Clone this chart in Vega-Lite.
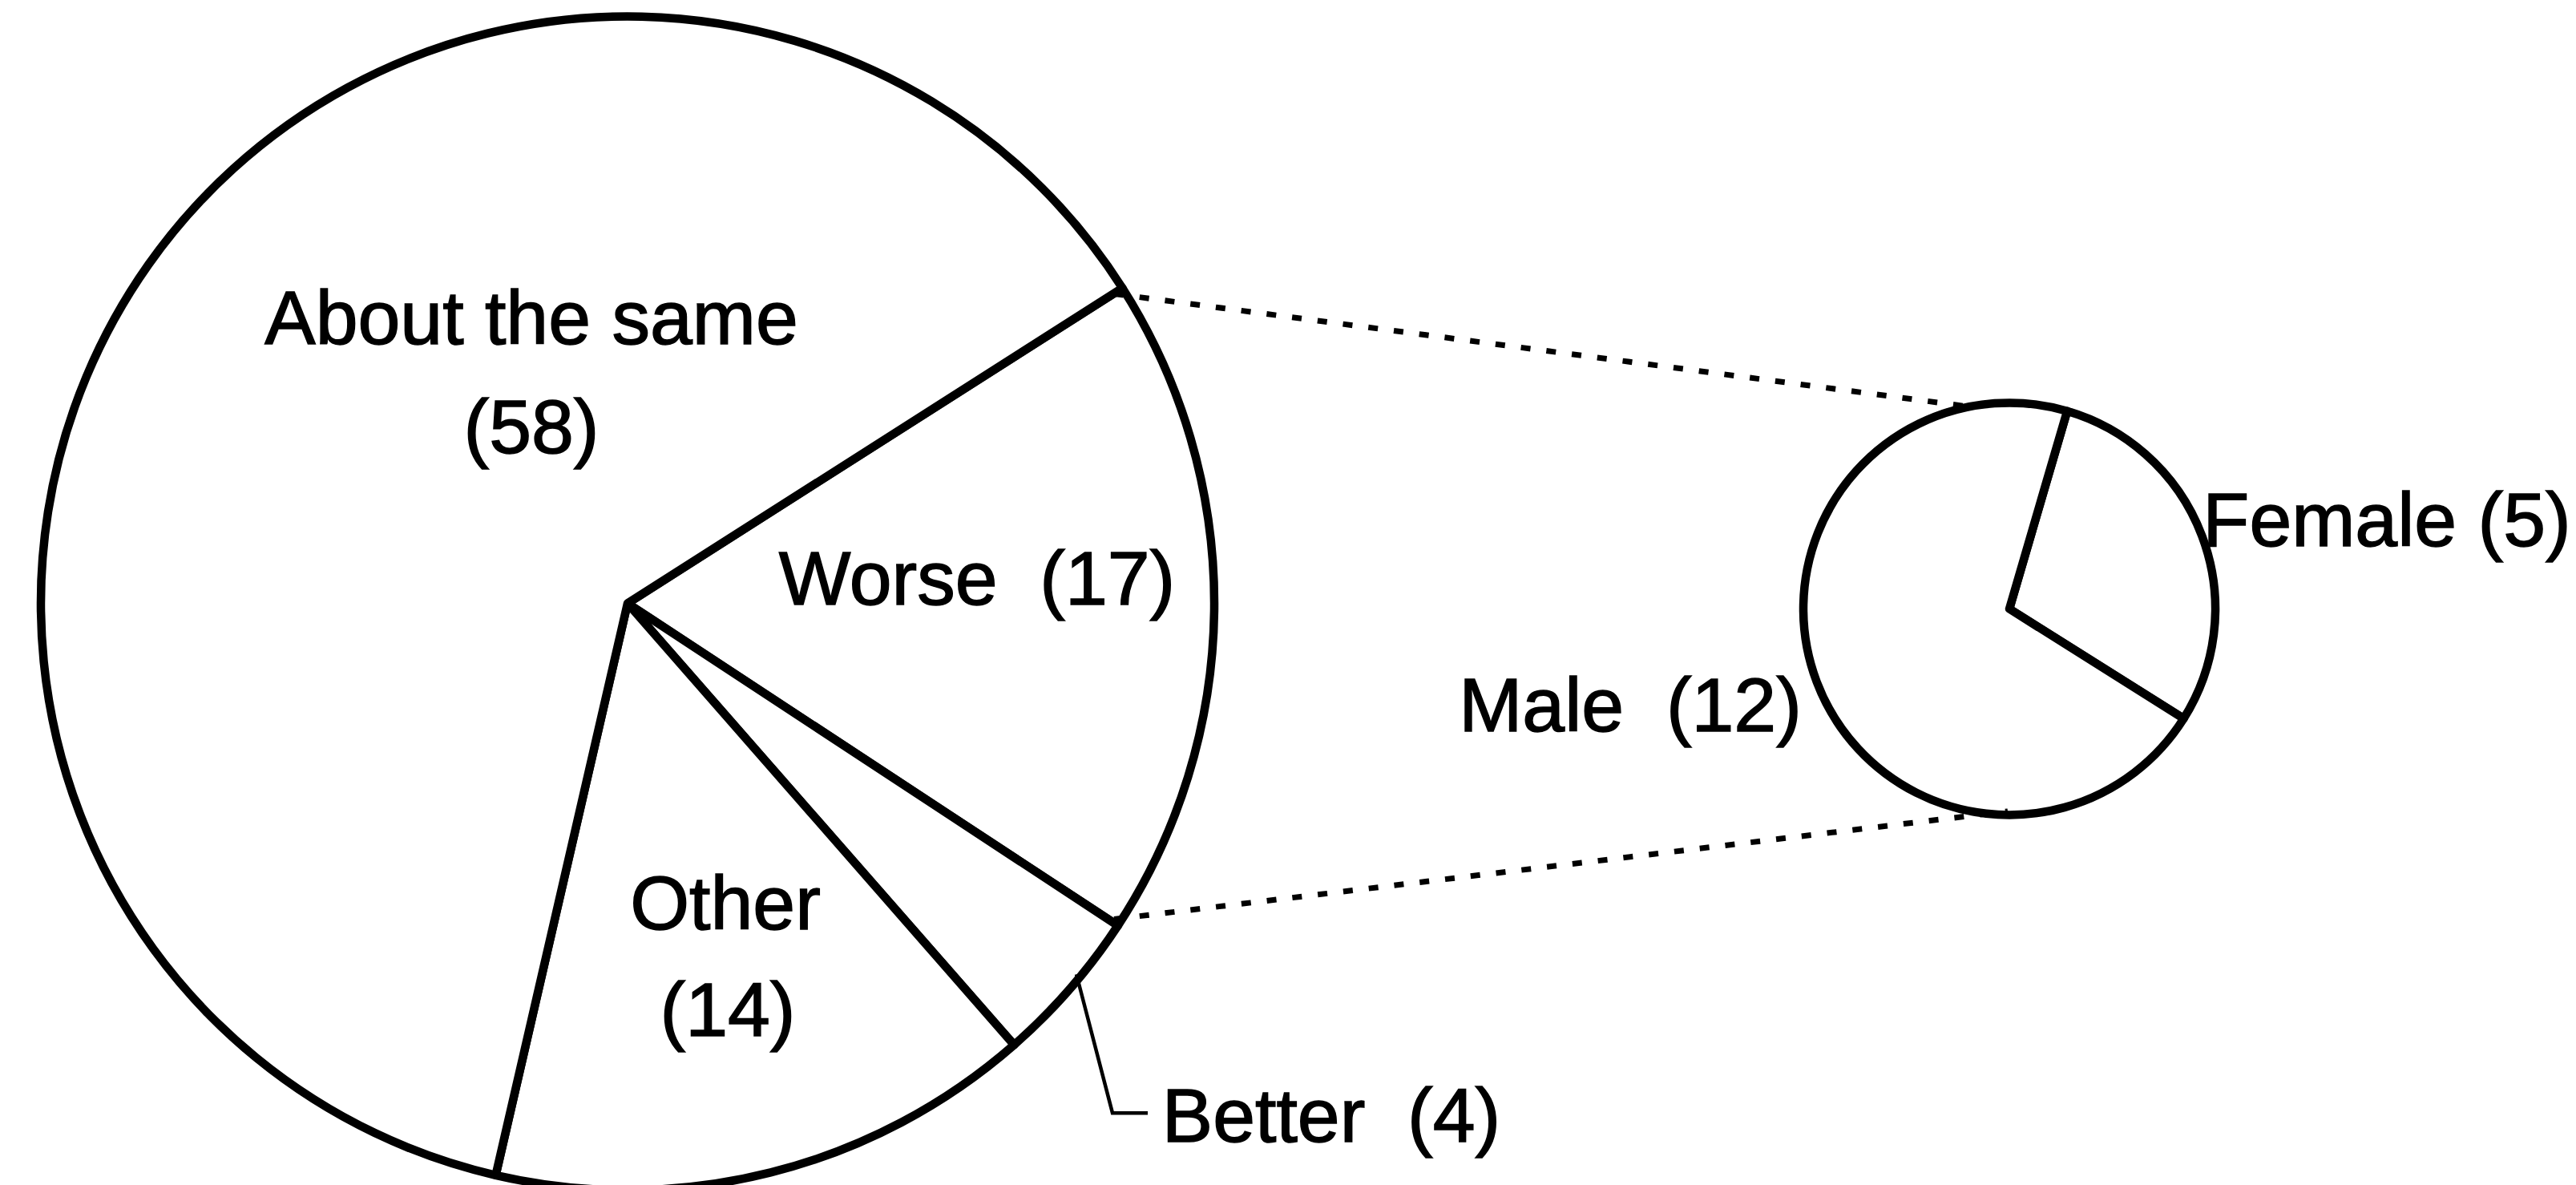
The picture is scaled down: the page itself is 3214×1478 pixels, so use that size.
{
  "$schema": "https://vega.github.io/schema/vega-lite/v6.json",
  "width": 3214,
  "height": 1478,
  "autosize": {"type": "fit", "contains": "padding"},
  "padding": 0,
  "background": "white",
  "config": {"view": {"stroke": null}},
  "datasets": {
    "main": [
      {"category": "Worse", "count": 17, "ord": 1},
      {"category": "Better", "count": 4, "ord": 2},
      {"category": "Other", "count": 14, "ord": 3},
      {"category": "About the same", "count": 58, "ord": 4}
    ],
    "breakdown": [
      {"category": "Female", "count": 5, "ord": 1},
      {"category": "Male", "count": 12, "ord": 2}
    ],
    "connectors": [
      {"x": 139.0, "y": 37.3, "x2": 245.5, "y2": 51.6},
      {"x": 139.0, "y": 116.7, "x2": 250.5, "y2": 103.0}
    ],
    "leader": [
      {"x": 134.3, "y": 123.7, "step": 1},
      {"x": 138.8, "y": 141.3, "step": 2},
      {"x": 143.2, "y": 141.3, "step": 3}
    ],
    "labels": [
      {"text": "About the same", "x": 66.3, "y": 43.7},
      {"text": "(58)", "x": 66.3, "y": 57.5},
      {"text": "Worse\u00a0 (17)", "x": 121.9, "y": 76.8},
      {"text": "Other", "x": 90.5, "y": 118.0},
      {"text": "(14)", "x": 90.8, "y": 131.5},
      {"text": "Better\u00a0 (4)", "x": 166.1, "y": 145.0},
      {"text": "Male\u00a0 (12)", "x": 203.4, "y": 92.8},
      {"text": "Female (5)", "x": 297.8, "y": 69.3}
    ]
  },
  "resolve": {"scale": {"theta": "independent"}},
  "layer": [
    {
      "data": {"name": "main"},
      "mark": {"type": "arc", "outerRadius": 732, "fill": "white", "stroke": "black", "strokeWidth": 10.5, "strokeJoin": "round"},
      "encoding": {
        "theta": {"field": "count", "type": "quantitative", "stack": true, "scale": {"range": [1.0036, 7.2868]}},
        "order": {"field": "ord", "type": "quantitative"},
        "x": {"datum": 78.3, "type": "quantitative", "scale": {"domain": [0, 321.4], "nice": false, "zero": false}, "axis": null},
        "y": {"datum": 76.6, "type": "quantitative", "scale": {"domain": [0, 147.8], "nice": false, "zero": false, "reverse": true}, "axis": null}
      }
    },
    {
      "data": {"name": "breakdown"},
      "mark": {"type": "arc", "outerRadius": 257, "fill": "white", "stroke": "black", "strokeWidth": 10.5, "strokeJoin": "round"},
      "encoding": {
        "theta": {"field": "count", "type": "quantitative", "stack": true, "scale": {"range": [0.2845, 6.5677]}},
        "order": {"field": "ord", "type": "quantitative"},
        "x": {"datum": 250.7, "type": "quantitative"},
        "y": {"datum": 77.3, "type": "quantitative"}
      }
    },
    {
      "data": {"name": "connectors"},
      "mark": {"type": "rule", "stroke": "black", "strokeWidth": 7, "strokeDash": [12, 20]},
      "encoding": {
        "x": {"field": "x", "type": "quantitative"},
        "y": {"field": "y", "type": "quantitative"},
        "x2": {"field": "x2"},
        "y2": {"field": "y2"}
      }
    },
    {
      "data": {"name": "leader"},
      "mark": {"type": "line", "stroke": "black", "strokeWidth": 4.5},
      "encoding": {
        "x": {"field": "x", "type": "quantitative"},
        "y": {"field": "y", "type": "quantitative"},
        "order": {"field": "step", "type": "quantitative"}
      }
    },
    {
      "data": {"name": "labels"},
      "mark": {"type": "text", "font": "Liberation Sans", "fontSize": 95, "align": "center", "baseline": "alphabetic", "fill": "black", "stroke": "black", "strokeWidth": 1.5},
      "encoding": {
        "x": {"field": "x", "type": "quantitative"},
        "y": {"field": "y", "type": "quantitative"},
        "text": {"field": "text", "type": "nominal"}
      }
    }
  ]
}
